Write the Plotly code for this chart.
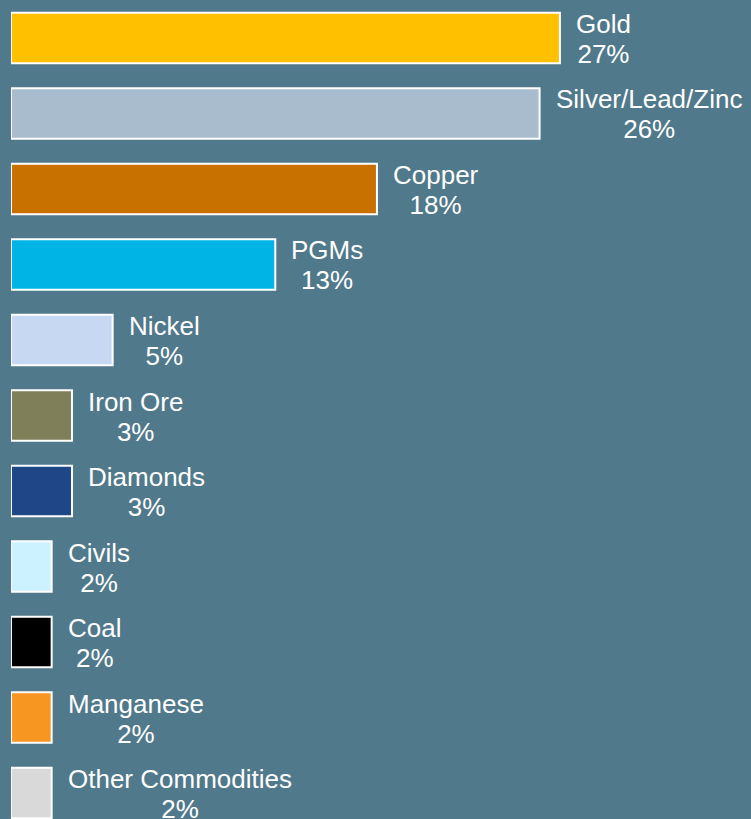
import plotly.graph_objects as go

categories = ["Gold", "Silver/Lead/Zinc", "Copper", "PGMs", "Nickel", "Iron Ore",
              "Diamonds", "Civils", "Coal", "Manganese", "Other Commodities"]
shares = [27, 26, 18, 13, 5, 3, 3, 2, 2, 2, 2]
colors = ["#FFC000", "#A9BCCD", "#C87000", "#00B5E6", "#C7D8F2", "#7F7F5A",
          "#1F4788", "#CCF2FF", "#000000", "#F79621", "#D9D9D9"]

BG = "#50798B"

fig = go.Figure(go.Bar(
    x=shares,
    y=categories,
    orientation="h",
    width=0.67,
    marker=dict(color=colors, line=dict(color="white", width=2)),
    hoverinfo="skip",
))

for cat, val in zip(categories, shares):
    fig.add_annotation(
        x=val, y=cat, xref="x", yref="y",
        text=f"<span style='font-size:26px'>{cat}<br>{val}%</span>",
        showarrow=False, xanchor="left", yanchor="middle", align="center",
        xshift=14, yshift=-1,
        font=dict(family="Liberation Sans, Arial, sans-serif", size=23, color="white"),
    )

fig.update_layout(
    width=751, height=819,
    margin=dict(l=11, r=0, t=0, b=0),
    paper_bgcolor=BG, plot_bgcolor=BG,
    showlegend=False,
    xaxis=dict(range=[0, 36.4], visible=False, fixedrange=True),
    yaxis=dict(range=[10.344, -0.503], visible=False, fixedrange=True),
)

fig.write_html("out.html")
